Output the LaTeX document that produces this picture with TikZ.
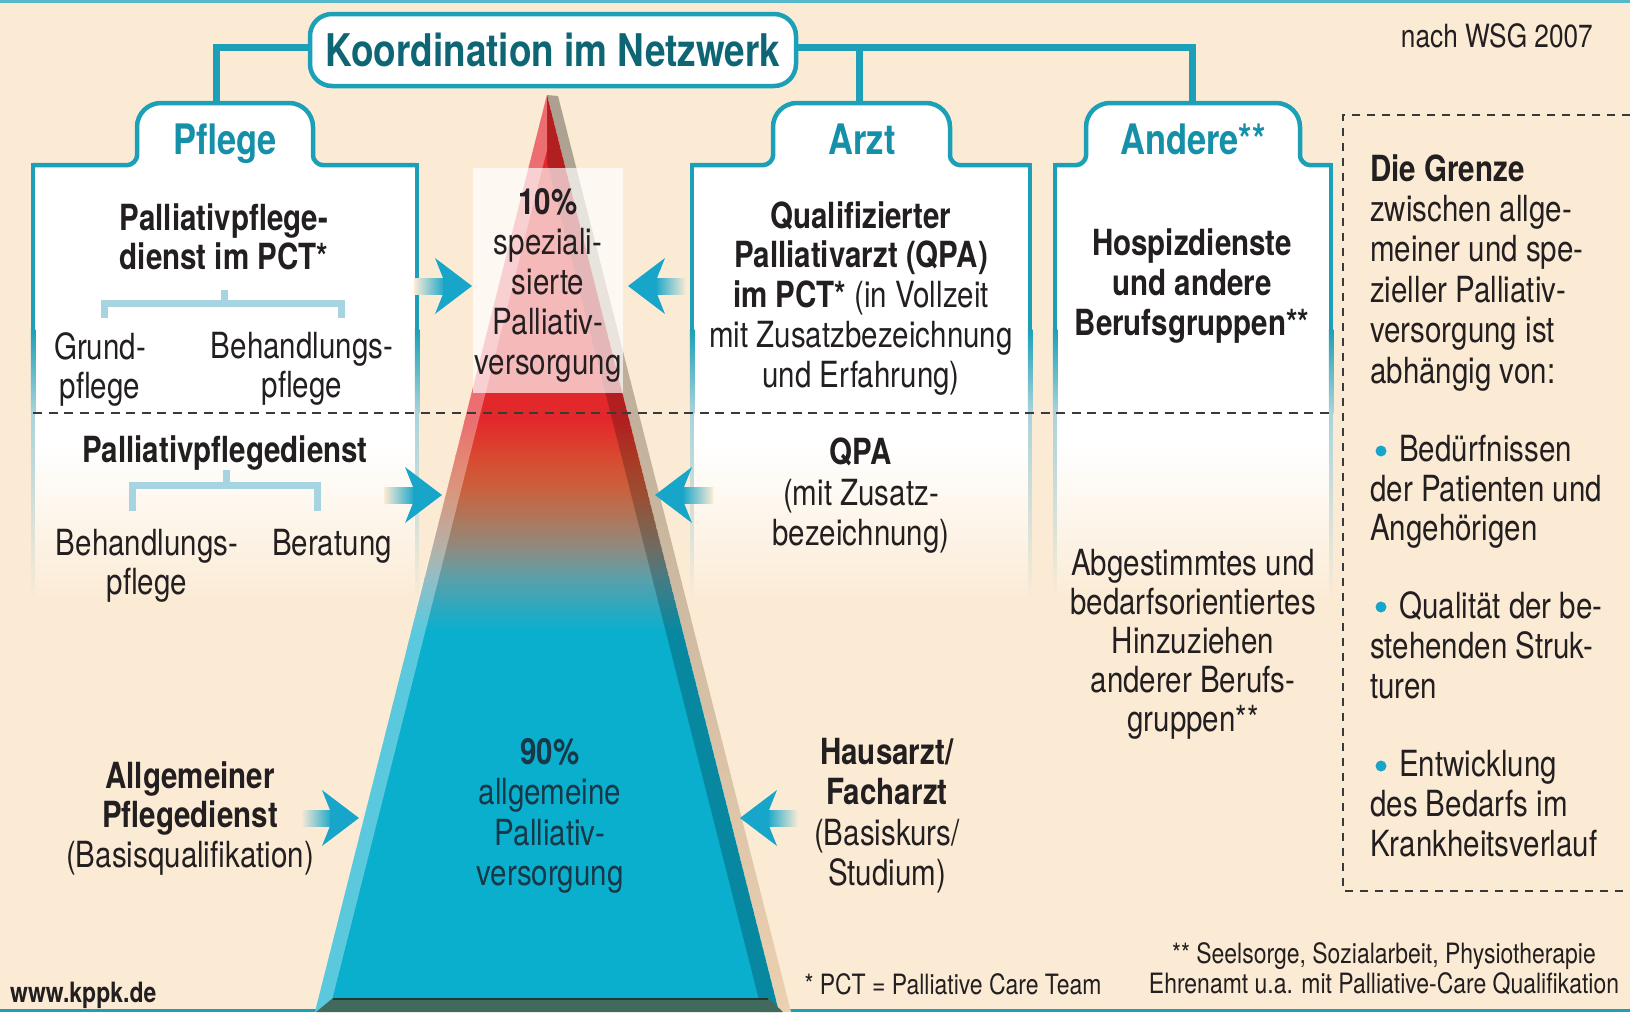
\documentclass[tikz,border=0pt]{standalone}
\usepackage{fontspec}
\setmainfont{TeX Gyre Heros}[FakeStretch=0.82]
\usetikzlibrary{calc}

\definecolor{bg}{HTML}{FBEBD5}
\definecolor{frame}{HTML}{1CA0B8}
\definecolor{framelight}{HTML}{A9D3DB}
\definecolor{titlec}{HTML}{0E6573}
\definecolor{tabc}{HTML}{1690A8}
\definecolor{ink}{HTML}{231F20}
\definecolor{brk}{HTML}{A6D5E1}
\definecolor{arrowc}{HTML}{17A6C9}
\definecolor{pteal}{HTML}{0AAFCE}
\definecolor{pred}{HTML}{E3282B}
\definecolor{deep}{HTML}{173848}
\definecolor{dashc}{HTML}{3A3A3A}
\definecolor{baseband}{HTML}{3F6A5D}

% faded side line of a column box
\newcommand{\sidebar}[1]{%
  \fill[frame] ({#1-2.25},163) rectangle ({#1+2.25},330);
  \shade[top color=frame,bottom color=framelight] ({#1-2.25},329.5) rectangle ({#1+2.25},413);
  \shade[top color=framelight,bottom color=bg] ({#1-1.5},412.5) rectangle ({#1+1.5},600);
}
% column box with tab: left, right, tab left, tab right
\newcommand{\tabbox}[4]{%
  \fill[white] (#1,165) rectangle (#2,445);
  \shade[top color=white,bottom color=bg] (#1,444) rectangle (#2,600);
  \fill[white] (#1,166) -- ({#3-9},166) -- ({#3-9},165) .. controls ({#3-5},165) and (#3,160) .. (#3,156)
     -- (#3,127) .. controls (#3,113.75) and ({#3+10.75},103) .. ({#3+24},103)
     -- ({#4-24},103) .. controls ({#4-10.75},103) and (#4,113.75) .. (#4,127)
     -- (#4,156) .. controls (#4,160) and ({#4+5},165) .. ({#4+9},165) -- (#2,165) -- (#2,166) -- cycle;
  \draw[tabline] (#1,165) -- ({#3-9},165) .. controls ({#3-5},165) and (#3,160) .. (#3,156)
     -- (#3,127) .. controls (#3,113.75) and ({#3+10.75},103) .. ({#3+24},103)
     -- ({#4-24},103) .. controls ({#4-10.75},103) and (#4,113.75) .. (#4,127)
     -- (#4,156) .. controls (#4,160) and ({#4+5},165) .. ({#4+9},165) -- (#2,165);
  \sidebar{#1}\sidebar{#2}
}
% block arrows with fading tail: tip x, tip y
\newcommand{\arrowR}[2]{%
  \shade[left color=bg,right color=arrowc] ({#1-58},{#2-8}) rectangle ({#1-27},{#2+8});
  \fill[arrowc] (#1,#2) -- ({#1-37},{#2-28}) -- ({#1-29},{#2-8}) -- ({#1-29},{#2+8}) -- ({#1-37},{#2+28}) -- cycle;}
\newcommand{\arrowL}[2]{%
  \shade[left color=arrowc,right color=bg] ({#1+27},{#2-8}) rectangle ({#1+58},{#2+8});
  \fill[arrowc] (#1,#2) -- ({#1+37},{#2-28}) -- ({#1+29},{#2-8}) -- ({#1+29},{#2+8}) -- ({#1+37},{#2+28}) -- cycle;}

\begin{document}
\begin{tikzpicture}[x=1pt,y=-1pt,
  tabline/.style={draw=frame,line width=4.5pt,line join=round},
  conn/.style={draw=frame,line width=7pt},
  brace/.style={draw=brk,line width=7pt},
  txt/.style={font=\fontsize{36}{39.5}\selectfont,text=ink,align=center,inner sep=0pt,anchor=north},
  btxt/.style={txt,font=\fontsize{36}{39.5}\selectfont\bfseries},
  ltxt/.style={txt,align=left,anchor=north west},
  line/.style={txt,anchor=base},
  bline/.style={btxt,anchor=base},
  tabtxt/.style={font=\fontsize{42}{44}\selectfont\bfseries,text=tabc,inner sep=0pt,anchor=base},
  note/.style={font=\fontsize{28}{30.5}\selectfont,text=ink,inner sep=0pt,align=center},
  dashedline/.style={draw=dashc,line width=2pt,dash pattern=on 9pt off 6.5pt}]

\useasboundingbox (0,0) rectangle (1630,1012);
\fill[bg] (0,0) rectangle (1630,1012);
\fill[frame!75] (0,0) rectangle (1630,3);
\fill[frame] (0,1008.5) rectangle (1630,1012);

% column boxes
\tabbox{33}{417}{137}{313}
\tabbox{692}{1030}{773}{950}
\tabbox{1055}{1331}{1086}{1300}

% pyramid: shadow, body, bevels
\shade[top color=black!32!bg,bottom color=brown!25!bg] (547,95) -- (558,96) -- (791,1012) -- (779,1012) -- cycle;
\begin{scope}
  \clip (547,95) -- (779,1012) -- (315,1012) -- cycle;
  \fill[pred] (300,90) rectangle (800,420.5);
  \shade[top color=pred,bottom color={rgb,255:red,217;green,72;blue,47}] (300,420) rectangle (800,455.5);
  \shade[top color={rgb,255:red,217;green,72;blue,47},bottom color={rgb,255:red,201;green,98;blue,63}] (300,455) rectangle (800,490.5);
  \shade[top color={rgb,255:red,201;green,98;blue,63},bottom color={rgb,255:red,170;green,122;blue,96}] (300,490) rectangle (800,522.5);
  \shade[top color={rgb,255:red,170;green,122;blue,96},bottom color={rgb,255:red,140;green,140;blue,130}] (300,522) rectangle (800,550.5);
  \shade[top color={rgb,255:red,140;green,140;blue,130},bottom color={rgb,255:red,90;green,160;blue,170}] (300,550) rectangle (800,578.5);
  \shade[top color={rgb,255:red,90;green,160;blue,170},bottom color=pteal] (300,578) rectangle (800,630.5);
  \fill[pteal] (300,630) rectangle (800,1012);
  \fill[white,opacity=0.33] (547,95) -- (315,1012) -- (329,1012) -- (547,150) -- cycle;
  \fill[black,opacity=0.22] (547,95) -- (779,1012) -- (762,1012) -- (547,162) -- cycle;
\end{scope}
\fill[baseband] (333,998) -- (768,998) -- (783,1012) -- (316,1012) -- cycle;
\draw[black!45!baseband,line width=2.5pt] (333,999) -- (768,999);

% light panel over the pyramid top
\fill[white,opacity=0.68] (473,168) rectangle (623,393);

% level separator and side box
\draw[dashedline] (33,413) -- (1331,413);
\draw[draw=dashc,line width=2pt,dash pattern=on 8pt off 7pt] (1630,115) -- (1343,115) -- (1343,891) -- (1630,891);

% arrows towards the pyramid
\arrowR{472}{286} \arrowL{628}{286}
\arrowR{442}{495} \arrowL{655}{495}
\arrowR{359}{818} \arrowL{740}{818}

% coordination header and connectors
\node[draw=frame,line width=4.5pt,fill=white,rounded corners=22pt,minimum width=486pt,minimum height=72pt,
      inner sep=0pt,font=\fontsize{45}{48}\selectfont\bfseries,text=titlec] (koord) at (553,50) {Koordination im Netzwerk};
\coordinate (koordL) at ([yshift=3pt]koord.west);
\coordinate (koordR) at ([yshift=3pt]koord.east);
\coordinate (tabP) at (216,105);
\coordinate (tabA) at (859,105);
\coordinate (tabN) at (1192,105);
\draw[conn] (koordL) -| (tabP);
\draw[conn] (koordR) -| (tabN);
\draw[conn] (tabA) -- (tabA |- koordR);

\node[tabtxt] (pflege) at (225,154) {Pflege};
\node[tabtxt] (arzt) at (862,154) {Arzt};
\node[tabtxt] (andere) at (1193,154) {Andere**};

% Pflege column
\node[btxt] (ppct) at (224,203) {Palliativpflege-\\dienst im PCT*};
\draw[brace] (104,318) -- (104,303) -- (341,303) -- (341,318);
\draw[brace] (224,303) -- (224,290);
\node[txt] (grund) at (100,332) {Grund-\\pflege};
\node[txt] (behand1) at (302,332) {Behandlungs-\\pflege};
\node[bline] (ppd) at (225,462) {Palliativpflegedienst};
\draw[brace] (132,511) -- (132,485) -- (317,485) -- (317,511);
\draw[brace] (226,485) -- (226,470);
\node[txt] (behand2) at (147,529) {Behandlungs-\\pflege};
\node[line] (beratung) at (332,555) {Beratung};
\node[txt,font=\fontsize{36}{39.5}\selectfont] (allg) at (190,761) {\textbf{Allgemeiner}\\\textbf{Pflegedienst}\\(Basisqualifikation)};

% pyramid labels
\node[txt,font=\fontsize{36}{40}\selectfont] (spez) at (548,188) {\textbf{10\%}\\speziali-\\sierte\\Palliativ-\\versorgung};
\node[txt,font=\fontsize{36}{40.5}\selectfont,text=deep] (allgv) at (550,738) {\textbf{90\%}\\allgemeine\\Palliativ-\\versorgung};

% Arzt column
\node[txt,font=\fontsize{36}{39.75}\selectfont] (qpa1) at (861,201) {\textbf{Qualifizierter}\\\textbf{Palliativarzt (QPA)}\\\textbf{im PCT*} (in Vollzeit\\mit Zusatzbezeichnung\\und Erfahrung)};
\node[txt,font=\fontsize{36}{40.5}\selectfont] (qpa2) at (861,438) {\textbf{QPA}\\(mit Zusatz-\\bezeichnung)};
\node[txt,font=\fontsize{36}{40.3}\selectfont] (haus) at (887,738) {\textbf{Hausarzt/}\\\textbf{Facharzt}\\(Basiskurs/\\Studium)};

% Andere column
\node[btxt,font=\fontsize{36}{40}\selectfont\bfseries] (hospiz) at (1192,228) {Hospizdienste\\und andere\\Berufsgruppen**};
\node[txt,font=\fontsize{36}{39}\selectfont] (abg) at (1193,549) {Abgestimmtes und\\bedarfsorientiertes\\Hinzuziehen\\anderer Berufs-\\gruppen**};

% side box text
\node[ltxt,font=\fontsize{36}{40.4}\selectfont] (grenze) at (1370,154) {\textbf{Die Grenze}\\zwischen allge-\\meiner und spe-\\zieller Palliativ-\\versorgung ist\\abhängig von:};
\node[ltxt,font=\fontsize{36}{39.5}\selectfont] (b1) at (1370,435) {\hspace*{29pt}Bedürfnissen\\der Patienten und\\Angehörigen};
\node[ltxt,font=\fontsize{36}{40}\selectfont] (b2) at (1370,591) {\hspace*{29pt}Qualität der be-\\stehenden Struk-\\turen};
\node[ltxt,font=\fontsize{36}{40}\selectfont] (b3) at (1370,750) {\hspace*{29pt}Entwicklung\\des Bedarfs im\\Krankheitsverlauf};
\fill[arrowc] (1381,451) circle (5.5);
\fill[arrowc] (1381,607) circle (5.5);
\fill[arrowc] (1381,766) circle (5.5);

% source, footnotes, web address
\node[note,anchor=base east,font=\fontsize{32}{34}\selectfont] (quelle) at (1593,47) {nach WSG 2007};
\node[note,anchor=base] (fn1) at (953,994) {* PCT = Palliative Care Team};
\node[note,anchor=north] (fn2) at (1384,942) {** Seelsorge, Sozialarbeit, Physiotherapie\\Ehrenamt u.a. mit Palliative-Care Qualifikation};
\node[note,anchor=base west,font=\fontsize{28}{30}\selectfont\bfseries] (web) at (10,1002) {www.kppk.de};
\end{tikzpicture}
\end{document}
